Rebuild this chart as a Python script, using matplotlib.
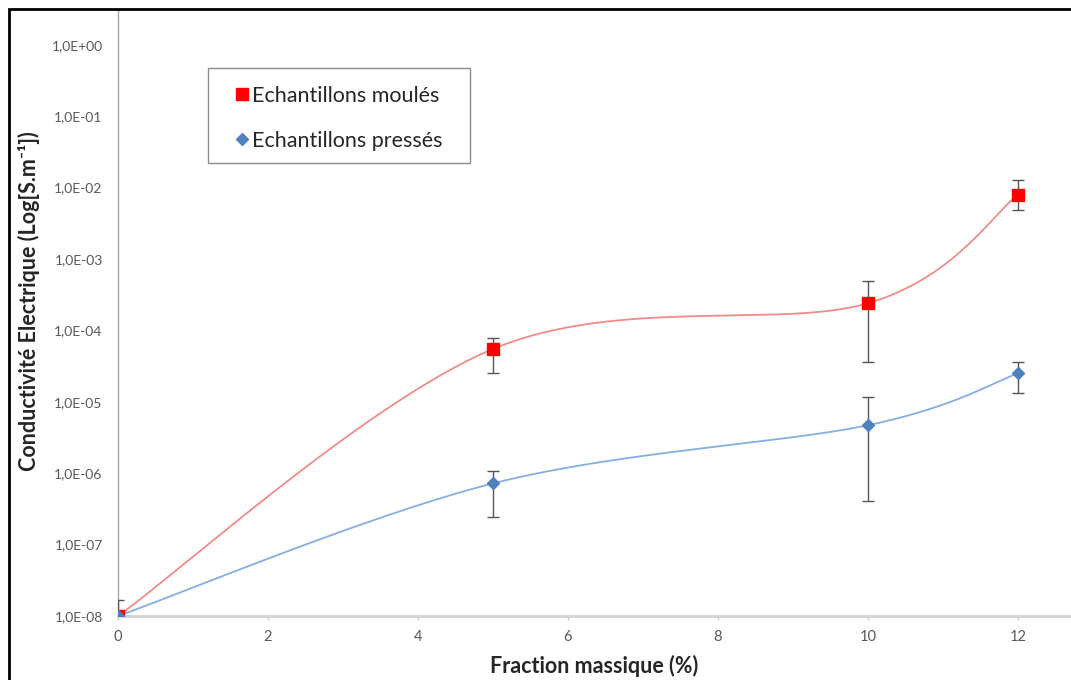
import numpy as np
import matplotlib
matplotlib.use('Agg')
import matplotlib.pyplot as plt
import matplotlib.patches as patches
from matplotlib.lines import Line2D
from matplotlib.ticker import FixedLocator, FuncFormatter

plt.rcParams['font.family'] = ['Lato', 'DejaVu Sans']

# %% data
fraction = [0, 5, 10, 12]

moules = [1.0e-8, 5.5e-5, 2.4e-4, 7.9e-3]
moules_hi = [1.7e-8, 7.8e-5, 4.9e-4, 1.28e-2]
moules_lo = [1.0e-8, 2.5e-5, 3.6e-5, 4.9e-3]

presses = [1.0e-8, 7.2e-7, 4.7e-6, 2.5e-5]
presses_hi = [1.0e-8, 1.07e-6, 1.17e-5, 3.6e-5]
presses_lo = [1.0e-8, 2.4e-7, 4.1e-7, 1.32e-5]

labels = ['Echantillons moulés', 'Echantillons pressés']
xlabel = 'Fraction massique (%)'
ylabel = 'Conductivité Electrique (Log[S.m⁻¹])'


# %% excel-like smoothed line (bezier through the points, in x / log10(y) space)
def smooth(x, y, n=60):
    px = np.asarray(x, float)
    py = np.log10(np.asarray(y, float))
    xs, ys = [], []
    k = len(px)
    for i in range(k - 1):
        i0, i3 = max(i - 1, 0), min(i + 2, k - 1)
        c1 = (px[i] + (px[i + 1] - px[i0]) / 6, py[i] + (py[i + 1] - py[i0]) / 6)
        c2 = (px[i + 1] - (px[i3] - px[i]) / 6, py[i + 1] - (py[i3] - py[i]) / 6)
        t = np.linspace(0, 1, n)
        b0, b1, b2, b3 = (1 - t) ** 3, 3 * (1 - t) ** 2 * t, 3 * (1 - t) * t ** 2, t ** 3
        xs.append(b0 * px[i] + b1 * c1[0] + b2 * c2[0] + b3 * px[i + 1])
        ys.append(b0 * py[i] + b1 * c1[1] + b2 * c2[1] + b3 * py[i + 1])
    return np.concatenate(xs), 10 ** np.concatenate(ys)


# %% plot
fig = plt.figure(figsize=(10.71, 6.8), dpi=100)
ax = fig.add_axes([118 / 1071, 64 / 680, 953 / 1071, 606 / 680])

sx, sy = smooth(fraction, moules)
ax.plot(sx, sy, color='#f28b8b', linewidth=1.3, zorder=2)
sx, sy = smooth(fraction, presses)
ax.plot(sx, sy, color='#86aee0', linewidth=1.3, zorder=2)

err_m = [np.array(moules) - np.array(moules_lo), np.array(moules_hi) - np.array(moules)]
err_p = [np.array(presses) - np.array(presses_lo), np.array(presses_hi) - np.array(presses)]

ax.errorbar(fraction, moules, yerr=err_m, fmt='s', color='#ff0000', ms=9,
            ecolor='#555555', elinewidth=1, capsize=4, capthick=1, zorder=3)
ax.errorbar(fraction, presses, yerr=err_p, fmt='D', color='#4f81bd', ms=6,
            ecolor='#555555', elinewidth=1, capsize=4, capthick=1, zorder=4)

ax.set_yscale('log')
ax.set_xlim(0, 953 / 75)
ax.set_ylim(1e-8, 10 ** (-8 + 606 / 71.4))

ax.xaxis.set_major_locator(FixedLocator([0, 2, 4, 6, 8, 10, 12]))
ax.yaxis.set_major_locator(FixedLocator([10.0 ** e for e in range(-8, 1)]))
ax.yaxis.set_minor_locator(FixedLocator([]))
ax.yaxis.set_major_formatter(FuncFormatter(lambda v, p: '1,0E%+03d' % int(round(np.log10(v)))))

ax.tick_params(axis='x', length=3, width=1, color='#c8c8c8', pad=7, labelsize=10.5, labelcolor='#595959')
ax.tick_params(axis='y', length=0, pad=11, labelsize=10, labelcolor='#595959')

for s in ['top', 'right']:
    ax.spines[s].set_visible(False)
ax.spines['left'].set_color('#a6a6a6')
ax.spines['left'].set_linewidth(1)
ax.spines['bottom'].set_color('#d4d4d4')
ax.spines['bottom'].set_linewidth(2)

ax.set_xlabel(xlabel, fontsize=15.5, fontweight='bold', color='#262626', va='center')
ax.xaxis.set_label_coords(0.5, -0.082)
ax.set_ylabel(ylabel, fontsize=15.5, fontweight='bold', color='#262626', va='center')
ax.yaxis.set_label_coords(-0.093, 0.52)

# legend: frame drawn separately so the inner padding can match
handles = [Line2D([], [], linestyle='none', marker='s', color='#ff0000', ms=9),
           Line2D([], [], linestyle='none', marker='D', color='#4f81bd', ms=6)]
leg = ax.legend(handles, labels, loc='upper left', bbox_to_anchor=(235.5 / 1071, 1 - 86 / 680),
                bbox_transform=fig.transFigure, borderaxespad=0, borderpad=0, fontsize=15.5,
                handlelength=0.6, handletextpad=0.15, labelspacing=1.15, frameon=False)
for t in leg.get_texts():
    t.set_color('#262626')
fig.add_artist(patches.Rectangle((208 / 1071, 1 - 163 / 680), 262 / 1071, 95 / 680,
                                 transform=fig.transFigure, fill=False,
                                 edgecolor='#8c8c8c', linewidth=1))

# black frame around the picture (cut on the right and bottom)
fig.add_artist(patches.Rectangle((8.5 / 1071, -0.05), 1.1, 1.05 - 9.5 / 680,
                                 transform=fig.transFigure, fill=False,
                                 edgecolor='black', linewidth=2))

fig.savefig('out.png', dpi=100)
